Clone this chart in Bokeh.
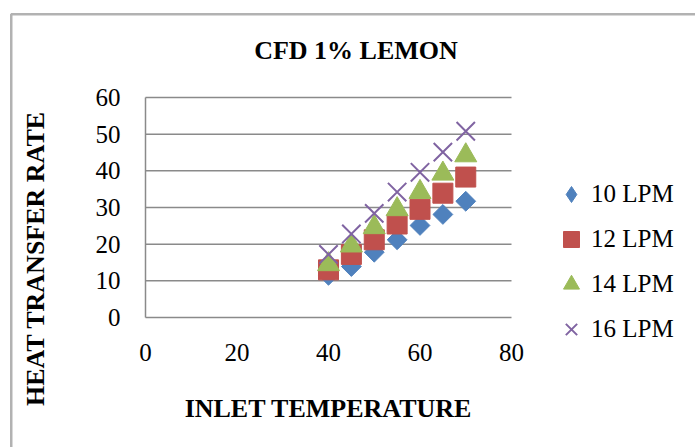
import math
from bokeh.plotting import figure
from bokeh.models import Label, Legend, LegendItem, BoxAnnotation, Range1d
from bokeh.core.properties import value
from bokeh.embed import file_html
from bokeh.resources import INLINE

# Inlet temperature (x) and heat transfer rate for each flow rate
inlet_temp = [40, 45, 50, 55, 60, 65, 70]
rate_10lpm = [11.5, 13.9, 17.8, 21.2, 25.1, 28.1, 31.7]
rate_12lpm = [13.0, 17.2, 21.2, 25.5, 29.5, 33.9, 38.3]
rate_14lpm = [14.5, 19.6, 24.6, 29.5, 34.2, 39.2, 44.2]
rate_16lpm = [17.2, 22.8, 28.4, 34.2, 39.6, 45.1, 50.8]

x_ticks = [0, 20, 40, 60, 80]
y_ticks = [0, 10, 20, 30, 40, 50, 60]
x_tick_labels = [str(t) for t in x_ticks]
y_tick_labels = [str(t) for t in y_ticks]

series_names = ["10 LPM", "12 LPM", "14 LPM", "16 LPM"]
colors = ["#4F81BD", "#C0504D", "#9BBB59", "#8064A2"]

FONT = "Liberation Serif"
GRID_GRAY = "#8a8a8a"

# Page layout (pixels): the plotting area sits inside a larger white card
W, H = 695, 447
PLOT_L, PLOT_R, PLOT_T, PLOT_B = 145, 511, 97, 317
X0, X1 = x_ticks[0], x_ticks[-1]
Y0, Y1 = y_ticks[0], y_ticks[-1]
kx = (PLOT_R - PLOT_L) / (X1 - X0)
ky = (PLOT_B - PLOT_T) / (Y1 - Y0)


def dx(px):
    return X0 + (px - PLOT_L) / kx


def dy(py):
    return Y0 + (PLOT_B - py) / ky


p = figure(width=W, height=H, output_backend="svg", toolbar_location=None,
           x_range=Range1d(dx(0), dx(W)), y_range=Range1d(dy(H), dy(0)),
           x_axis_location=None, y_axis_location=None,
           min_border=0)
p.background_fill_color = "white"
p.border_fill_color = "white"
p.outline_line_color = None
p.xgrid.visible = False
p.ygrid.visible = False

# horizontal gridlines across the plotting area
p.segment(x0=[X0] * len(y_ticks), y0=y_ticks, x1=[X1] * len(y_ticks), y1=y_ticks,
          line_color=GRID_GRAY, line_width=1.5)
# value-axis line from the lowest to the highest tick
p.segment(x0=[X0], y0=[Y0], x1=[X0], y1=[Y1], line_color=GRID_GRAY, line_width=1.5)

# tick labels
p.text(x=x_ticks, y=[Y0] * len(x_ticks), text=x_tick_labels, y_offset=26,
       text_font=value(FONT), text_font_size="25px", text_color="black",
       text_align="center", text_baseline="top")
p.text(x=[X0] * len(y_ticks), y=y_ticks, text=y_tick_labels, x_offset=-25,
       text_font=value(FONT), text_font_size="25px", text_color="black",
       text_align="right", text_baseline="middle")

# markers (the 10 LPM diamonds are squares turned by 45 degrees)
r10 = p.scatter(inlet_temp, rate_10lpm, marker="square", size=14, angle=math.pi / 4,
                fill_color=colors[0], line_color=colors[0])
r12 = p.scatter(inlet_temp, rate_12lpm, marker="square", size=20,
                fill_color=colors[1], line_color=colors[1])
r14 = p.scatter(inlet_temp, rate_14lpm, marker="triangle", size=22,
                fill_color=colors[2], line_color=colors[2])
r16 = p.scatter(inlet_temp, rate_16lpm, marker="x", size=26,
                line_color=colors[3], line_width=2)
# legend swatches are never rotated, so the 10 LPM entry uses a diamond glyph
r10_key = p.scatter(inlet_temp, rate_10lpm, marker="diamond", size=14,
                    fill_color=colors[0], line_color=colors[0], visible=False)

legend = Legend(items=[LegendItem(label=n, renderers=[r]) for n, r in
                       zip(series_names, [r10_key, r12, r14, r16])],
                location=(551, H - 349), orientation="vertical",
                glyph_width=40, glyph_height=40, spacing=5,
                label_standoff=0, padding=0, margin=0,
                border_line_color=None, background_fill_alpha=0,
                label_text_font=FONT, label_text_font_size="25px",
                label_text_color="black")
p.add_layout(legend, "center")

# title and axis titles
title_style = dict(text_font=FONT, text_font_size="26px", text_font_style="bold",
                   text_color="black", text_align="center", text_baseline="middle")
p.add_layout(Label(x=dx(355.5), y=dy(49.5), text="CFD 1% LEMON", **title_style))
p.add_layout(Label(x=dx(328), y=dy(407.5), text="INLET TEMPERATURE", **title_style))
p.add_layout(Label(x=dx(35), y=dy(258), text="HEAT TRANSFER RATE", angle=math.pi / 2,
                   **title_style))

# outer card border
p.add_layout(BoxAnnotation(left=dx(10.75), right=dx(W + 40), top=dy(13.75), bottom=dy(H + 40),
                           fill_alpha=0, line_color="black", line_width=2.5))

open("out.html", "w").write(file_html(p, INLINE))
